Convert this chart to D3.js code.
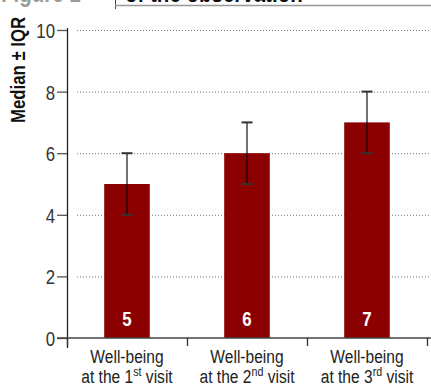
<!DOCTYPE html>
<html>
<head>
<meta charset="utf-8">
<script src="https://cdn.jsdelivr.net/npm/d3@7"></script>
<style>
  html, body { margin: 0; padding: 0; background: #fff; }
  svg { display: block; }
  text { font-family: "Liberation Sans", Arial, sans-serif; }
</style>
</head>
<body>
<svg id="chart" width="431" height="385"></svg>
<script>
// Well-being scores per visit: median with interquartile range
const visits = ["1", "2", "3"];
const ordinals = ["st", "nd", "rd"];
const medians = [5, 6, 7];
const q1 = [4, 5, 6];
const q3 = [6, 7, 8];
const yTicks = [0, 2, 4, 6, 8, 10];

const svg = d3.select("#chart");
const W = 431, H = 385;
const NARROW = 0.82; // horizontal squeeze for a condensed look

const x = d3.scaleBand()
  .domain(visits)
  .range([67, 427])
  .paddingInner(0.62)
  .paddingOuter(0.31);

const y = d3.scaleLinear()
  .domain([0, 10])
  .range([338, 30]);

// Condensed text helper: place at (px, py) and squeeze horizontally
function narrowText(parent, px, py) {
  return parent.append("text")
    .attr("transform", `translate(${px},${py}) scale(${NARROW},1)`);
}

// Header strip
narrowText(svg, 1, 1.5).attr("font-size", 25).attr("font-weight", "bold")
  .attr("fill", "#9a9a9a").text("Figure 1");
narrowText(svg, 125, 1.5).attr("font-size", 25).attr("font-weight", "bold")
  .attr("fill", "#111").text("of the observation");
svg.append("line").attr("x1", 115.5).attr("x2", 115.5).attr("y1", 0).attr("y2", 9)
  .attr("stroke", "#444").attr("stroke-width", 1);
svg.append("line").attr("x1", 115).attr("x2", W).attr("y1", 5.5).attr("y2", 5.5)
  .attr("stroke", "#999").attr("stroke-width", 1.5);

// Dotted grid lines
svg.append("g").selectAll("line")
  .data(yTicks.filter(d => d > 0))
  .join("line")
  .attr("x1", 77).attr("x2", W)
  .attr("y1", d => y(d) + 0.5).attr("y2", d => y(d) + 0.5)
  .attr("stroke", "#777").attr("stroke-width", 1)
  .attr("stroke-dasharray", "1,2");

// Bars
svg.append("g").selectAll("rect")
  .data(visits)
  .join("rect")
  .attr("x", d => x(d))
  .attr("width", x.bandwidth())
  .attr("y", (d, i) => y(medians[i]))
  .attr("height", (d, i) => y(0) - y(medians[i]))
  .attr("fill", "#8b0000");

// IQR whiskers
const eb = svg.append("g");
visits.forEach((v, i) => {
  const cx = x(v) + x.bandwidth() / 2;
  eb.append("line")
    .attr("x1", cx).attr("x2", cx)
    .attr("y1", y(q1[i])).attr("y2", y(q3[i]))
    .attr("stroke", "#000").attr("stroke-opacity", 0.55).attr("stroke-width", 2);
  [q1[i], q3[i]].forEach(q => {
    eb.append("line")
      .attr("x1", cx - 5.5).attr("x2", cx + 5.5)
      .attr("y1", y(q)).attr("y2", y(q))
      .attr("stroke", "#333").attr("stroke-width", 2);
  });
});

// Value labels inside bars
const vl = svg.append("g");
visits.forEach((v, i) => {
  narrowText(vl, x(v) + x.bandwidth() / 2, 326)
    .attr("text-anchor", "middle")
    .attr("font-size", 20.5).attr("font-weight", "bold").attr("fill", "#fff")
    .text(medians[i]);
});

// Y axis
const yAxis = svg.append("g")
  .attr("transform", "translate(67,0)")
  .call(d3.axisLeft(y).tickValues(yTicks).tickSize(10).tickPadding(3).tickSizeOuter(0));
yAxis.select(".domain").remove();
yAxis.append("line").attr("x1", 0.5).attr("x2", 0.5).attr("y1", 28).attr("y2", 348)
  .attr("stroke", "#222").attr("stroke-width", 1.3);
yAxis.selectAll(".tick line").attr("stroke", "#555").attr("stroke-width", 1.3);
yAxis.selectAll(".tick text")
  .attr("x", null).attr("dy", null)
  .attr("transform", `translate(-12,7.5) scale(0.8,1)`)
  .attr("font-size", 21).attr("fill", "#333")
  .attr("font-family", null);

// X axis baseline and category separators
const xEdges = [67, 187, 307, 427];
svg.append("line").attr("x1", 57).attr("x2", W).attr("y1", y(0)).attr("y2", y(0))
  .attr("stroke", "#444").attr("stroke-width", 1.5);
svg.append("g").selectAll("line")
  .data(xEdges)
  .join("line")
  .attr("x1", d => d + 0.5).attr("x2", d => d + 0.5)
  .attr("y1", y(0)).attr("y2", 346)
  .attr("stroke", "#333").attr("stroke-width", 1.3);

// Category labels
const cg = svg.append("g");
visits.forEach((v, i) => {
  const cx = x(v) + x.bandwidth() / 2;
  narrowText(cg, cx, 363).attr("text-anchor", "middle")
    .attr("font-size", 19).attr("fill", "#222").text("Well-being");
  const t = narrowText(cg, cx, 383).attr("text-anchor", "middle")
    .attr("font-size", 19).attr("fill", "#222");
  t.append("tspan").text("at the " + v);
  t.append("tspan").attr("dy", -7).attr("font-size", 13).text(ordinals[i]);
  t.append("tspan").attr("dy", 7).text(" visit");
});

// Y title
svg.append("text")
  .attr("transform", `translate(25,70) rotate(-90) scale(0.84,1)`)
  .attr("text-anchor", "middle")
  .attr("font-size", 20).attr("font-weight", "bold").attr("fill", "#111")
  .text("Median ± IQR");
</script>
</body>
</html>
